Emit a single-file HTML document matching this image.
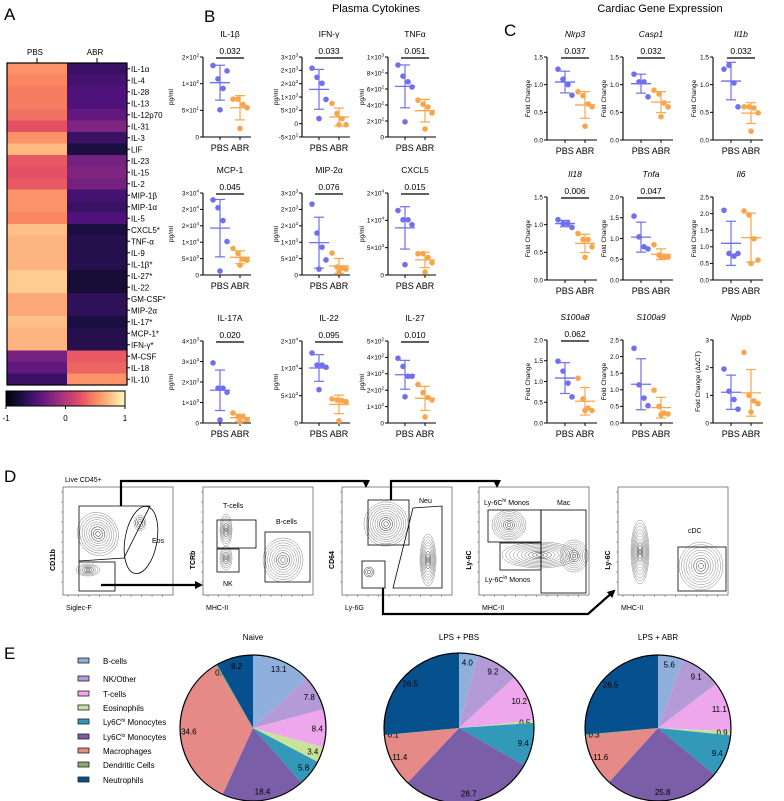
<!DOCTYPE html>
<html><head><meta charset="utf-8"><style>
html,body{margin:0;padding:0;background:#fff;}
svg{display:block;font-family:"Liberation Sans",Arial,sans-serif;}
</style></head><body>
<svg id="fig" width="784" height="801" viewBox="0 0 784 801" xmlns="http://www.w3.org/2000/svg">
<text x="4" y="20" font-size="17">A</text>
<text x="204" y="22" font-size="17">B</text>
<text x="504" y="36" font-size="17">C</text>
<text x="4" y="482" font-size="17">D</text>
<text x="4" y="659" font-size="17">E</text>
<text x="376" y="12" font-size="11" text-anchor="middle">Plasma Cytokines</text>
<text x="660" y="12" font-size="11" text-anchor="middle">Cardiac Gene Expression</text>
<g id="gA"></g>
<g id="gB"></g>
<g id="gC"></g>
<g id="gD"></g>
<g id="gE"></g>
</svg>
<script>
const NS="http://www.w3.org/2000/svg";
// ---------- Heatmap data ----------
const hmRows=["IL-1α","IL-4","IL-28","IL-13","IL-12p70","IL-31","IL-3","LIF","IL-23","IL-15","IL-2","MIP-1β","MIP-1α","IL-5","CXCL5*","TNF-α","IL-9","IL-1β*","IL-27*","IL-22","GM-CSF*","MIP-2α","IL-17*","MCP-1*","IFN-γ*","M-CSF","IL-18","IL-10"];
const hmPBS=[0.55,0.5,0.45,0.45,0.4,0.25,0.55,0.72,0.3,0.25,0.3,0.55,0.55,0.5,0.75,0.7,0.7,0.7,0.8,0.8,0.65,0.65,0.75,0.7,0.7,-0.3,-0.4,-0.6];
const hmABR=[-0.6,-0.55,-0.5,-0.5,-0.4,-0.25,-0.6,-0.75,-0.3,-0.25,-0.3,-0.55,-0.6,-0.5,-0.75,-0.7,-0.7,-0.7,-0.8,-0.8,-0.65,-0.65,-0.75,-0.7,-0.7,0.3,0.35,0.55];
const hmCols=["PBS","ABR"];
const cbTicks=[-1,0,1];
// ---------- Plasma cytokine data ----------
const bTitles=["IL-1β","IFN-γ","TNFα","MCP-1","MIP-2α","CXCL5","IL-17A","IL-22","IL-27"];
const bP=["0.032","0.033","0.051","0.045","0.076","0.015","0.020","0.095","0.010"];
const bPBS=[[134,109,91,124,51],[2080,1740,1515,910,190],[900,760,690,625,190],[22900,20500,16600,10200,1200],[2160,1280,850,460,180],[11800,10100,10100,9200,1900],[2930,1700,1700,1500,150],[12800,10600,10600,10200,6100],[395,345,285,285,160]];
const bABR=[[71,71,61,55,16],[760,380,190,-40,-40],[460,410,375,300,100],[8100,6600,4800,4500,3000],[670,240,210,180,90],[3900,3900,3200,2250,560],[490,300,300,150,50],[4400,4200,4100,3900,400],[235,185,155,140,37]];
const bTicks=[[0,50,100,150],[-500,0,500,1000,1500,2000,2500],[0,200,400,600,800,1000],[0,5000,10000,15000,20000,25000],[0,500,1000,1500,2000,2500],[0,5000,10000,15000],[0,1000,2000,3000,4000],[0,5000,10000,15000],[0,100,200,300,400,500]];
const bTickLabels=[["0","5×10^1","1×10^2","2×10^2"],["-5×10^2","0","5×10^2","1×10^3","2×10^3","2×10^3","3×10^3"],["0","2×10^2","4×10^2","6×10^2","8×10^2","1×10^3"],["0","5×10^3","1×10^4","2×10^4","2×10^4","3×10^4"],["0","5×10^2","1×10^3","2×10^3","2×10^3","3×10^3"],["0","5×10^3","1×10^4","2×10^4"],["0","1×10^3","2×10^3","3×10^3","4×10^3"],["0","5×10^3","1×10^4","2×10^4"],["0","1×10^2","2×10^2","3×10^2","4×10^2","5×10^2"]];
// ---------- Cardiac gene data ----------
const cTitles=["Nlrp3","Casp1","Il1b","Il18","Tnfa","Il6","S100a8","S100a9","Nppb"];
const cP=["0.037","0.032","0.032","0.006","0.047","","0.062","",""];
const cPBS=[[1.28,1.10,1.00,0.81],[1.19,1.05,1.05,0.78],[1.28,1.35,1.03,0.6],[1.09,1.02,1.02,0.95],[1.54,1.04,0.8,0.75],[2.1,0.8,0.72,0.8],[1.49,1.25,0.96,0.63],[2.25,1.15,0.75,0.52],[1.95,1.15,0.85,0.5]];
const cABR=[[0.87,0.8,0.65,0.6,0.25],[0.9,0.83,0.67,0.6,0.42],[0.6,0.6,0.58,0.49,0.16],[0.84,0.73,0.73,0.6,0.41],[0.85,0.6,0.55,0.55,0.55],[2.08,1.96,1.24,0.6,0.5],[1.08,0.58,0.36,0.3,0.3],[0.99,0.5,0.3,0.27,0.25],[2.55,1.0,0.8,0.7,0.4]];
const cTicks=[[0,0.5,1,1.5],[0,0.5,1,1.5],[0,0.5,1,1.5],[0,0.5,1,1.5],[0,0.5,1,1.5,2],[0,0.5,1,1.5,2,2.5],[0,0.5,1,1.5,2],[0,0.5,1,1.5,2,2.5],[0,1,2,3]];
const cTickLabels=[["0.0","0.5","1.0","1.5"],["0.0","0.5","1.0","1.5"],["0.0","0.5","1.0","1.5"],["0.0","0.5","1.0","1.5"],["0.0","0.5","1.0","1.5","2.0"],["0.0","0.5","1.0","1.5","2.0","2.5"],["0.0","0.5","1.0","1.5","2.0"],["0.0","0.5","1.0","1.5","2.0","2.5"],["0","1","2","3"]];
// ---------- Pie data ----------
const pieCats=["B-cells","NK/Other","T-cells","Eosinophils","Ly6Chi Monocytes","Ly6Clo Monocytes","Macrophages","Dendritic Cells","Neutrophils"];
const pieNaive=[13.1,7.8,8.4,3.4,5.8,18.4,34.6,0.4,8.2];
const piePBS=[4.0,9.2,10.2,0.5,9.4,28.7,11.4,0.1,26.5];
const pieABR=[5.6,9.1,11.1,0.9,9.4,25.8,11.6,0.3,26.5];
const pieTitles=["Naive","LPS + PBS","LPS + ABR"];

function mk(tag,attrs,parent,txt){const e=document.createElementNS(NS,tag);for(const k in attrs)e.setAttribute(k,attrs[k]);if(txt!==undefined)e.textContent=txt;parent.appendChild(e);return e;}
const magma=[[0,[0,0,4]],[0.13,[28,16,68]],[0.25,[79,18,123]],[0.38,[129,37,129]],[0.5,[181,54,122]],[0.63,[229,80,100]],[0.75,[251,135,97]],[0.88,[254,194,135]],[1,[252,253,191]]];
function cmap(t){t=Math.max(0,Math.min(1,t));for(let i=1;i<magma.length;i++){if(t<=magma[i][0]){const a=magma[i-1],b=magma[i];const f=(t-a[0])/(b[0]-a[0]);const c=a[1].map((v,j)=>Math.round(v+(b[1][j]-v)*f));return `rgb(${c})`;}}return "rgb(252,253,191)";}

// ---------- Panel A ----------
(function(){
 const g=document.getElementById('gA');
 const x0=7,y0=63,cw=60,rh=(385-63)/hmRows.length;
 hmCols.forEach((c,i)=>{
  const t=mk('text',{x:x0+cw*i+cw/2-2,y:55,'font-size':8,'text-anchor':'middle'},g,c);
  
  mk('line',{x1:x0+cw*i+cw/2,x2:x0+cw*i+cw/2,y1:58,y2:63,stroke:'#000'},g);
 });
 hmRows.forEach((r,i)=>{
  [hmPBS[i],hmABR[i]].forEach((v,j)=>{
   const rc=mk('rect',{x:x0+cw*j,y:y0+rh*i,width:cw+0.5,height:rh+0.5,fill:cmap((v+1)/2)},g);
   
  });
  const yy=y0+rh*(i+0.5);
  mk('line',{x1:127,x2:130,y1:yy,y2:yy,stroke:'#000'},g);
  const t=mk('text',{x:131,y:yy+3,'font-size':8},g,r);
  
 });
 mk('rect',{x:x0,y:y0,width:cw*2,height:385-63,fill:'none',stroke:'#000','stroke-width':1.2},g);
 const defs=mk('defs',{},g);const lg=mk('linearGradient',{id:'mg',x1:0,x2:1,y1:0,y2:0},defs);
 for(let i=0;i<=20;i++)mk('stop',{offset:i/20,'stop-color':cmap(i/20)},lg);
 const cb=mk('rect',{x:6,y:391,width:119,height:15,fill:'url(#mg)',stroke:'#000'},g);
 
 cbTicks.forEach(v=>{const x=6+(v+1)/2*119;mk('line',{x1:x,x2:x,y1:406,y2:409,stroke:'#000'},g);
  const t=mk('text',{x:x,y:421,'font-size':8,'text-anchor':'middle'},g,String(v));});
})();

function tickText(parent,x,y,lab){
 const t=mk('text',{x:x,y:y,'font-size':6.5,'text-anchor':'end'},parent);
 const m=lab.split('^');
 mk('tspan',{},t,m[0]);
 if(m[1]!==undefined)mk('tspan',{'font-size':4.5,dy:-3},t,m[1]);
 
}
function meanSD(a){const m=a.reduce((s,v)=>s+v,0)/a.length;const sd=Math.sqrt(a.reduce((s,v)=>s+(v-m)*(v-m),0)/(a.length-1));return [m,sd];}

function chart(parent,cfg){
 const g=mk('g',{},parent);
 
 const lo=cfg.ticks[0],hi=cfg.ticks[cfg.ticks.length-1];
 const Y=v=>cfg.yBot-(v-lo)/(hi-lo)*(cfg.yBot-cfg.yTop);
 const xP=cfg.x0+cfg.dp,xA=cfg.x0+cfg.da;
 mk('line',{x1:cfg.x0,x2:cfg.x0,y1:cfg.yTop,y2:cfg.yBot,stroke:'#000','stroke-width':1.1},g);
 mk('line',{x1:cfg.x0,x2:cfg.x0+cfg.w,y1:cfg.yBot,y2:cfg.yBot,stroke:'#000','stroke-width':1.1},g);
 cfg.ticks.forEach((v,i)=>{const y=Y(v);mk('line',{x1:cfg.x0-3,x2:cfg.x0,y1:y,y2:y,stroke:'#000'},g);tickText(g,cfg.x0-4,y+2.3,cfg.labels[i]);});
 [xP,xA].forEach(x=>mk('line',{x1:x,x2:x,y1:cfg.yBot,y2:cfg.yBot+3,stroke:'#000'},g));
 const xl=mk('text',{x:(xP+xA)/2,y:cfg.yBot+14,'font-size':9,'text-anchor':'middle'},g,'PBS ABR');
 const tt=mk('text',{x:(xP+xA)/2,y:cfg.yTop-20,'font-size':8.5,'text-anchor':'middle','font-style':cfg.italic?'italic':'normal'},g,cfg.title);
 if(cfg.p){const pt=mk('text',{x:(xP+xA)/2,y:cfg.yTop-3,'font-size':8.5,'text-anchor':'middle'},g,cfg.p);
  mk('line',{x1:xP-4,x2:xA+4,y1:cfg.yTop+1,y2:cfg.yTop+1,stroke:'#000','stroke-width':1.2},g);}
 const yl=mk('text',{transform:`translate(${cfg.x0-cfg.ylOff},${(cfg.yTop+cfg.yBot)/2}) rotate(-90)`,'font-size':6.5,'text-anchor':'middle'},g,cfg.ylab);
 [[cfg.pbs,xP,'#6f6ff0'],[cfg.abr,xA,'#f8a54c']].forEach(([arr,x,col],gi)=>{
  const [m,sd]=meanSD(arr);
  mk('line',{x1:x,x2:x,y1:Y(m+sd),y2:Y(m-sd),stroke:col,'stroke-width':1.2},g);
  mk('line',{x1:x-5,x2:x+5,y1:Y(m+sd),y2:Y(m+sd),stroke:col,'stroke-width':1.2},g);
  mk('line',{x1:x-5,x2:x+5,y1:Y(m-sd),y2:Y(m-sd),stroke:col,'stroke-width':1.2},g);
  mk('line',{x1:x-10,x2:x+10,y1:Y(m),y2:Y(m),stroke:col,'stroke-width':1.3},g);
  const offs=[-7,-2,3,7,0];
  arr.forEach((v,i)=>{const c=mk('circle',{cx:x+offs[i%5],cy:Y(v),r:2.8,fill:col},g);
   });
 });
}
(function(){const g=document.getElementById('gB');
 const xs=[203,302,388],rows=[[57,137],[193,275],[341,423]];
 for(let i=0;i<9;i++){const c=i%3,r=Math.floor(i/3);
  chart(g,{x0:xs[c],w:48,dp:17,da:37,yTop:rows[r][0],yBot:rows[r][1],ticks:bTicks[i],labels:bTickLabels[i],pbs:bPBS[i],abr:bABR[i],title:bTitles[i],p:bP[i],italic:false,ylab:'pg/ml',ylOff:c==0?30:24});}
})();
(function(){const g=document.getElementById('gC');
 const xs=[547,623,713],rows=[[57,140],[197,280],[340,423]];
 for(let i=0;i<9;i++){const c=i%3,r=Math.floor(i/3);
  chart(g,{x0:xs[c],w:50,dp:18,da:38,yTop:rows[r][0],yBot:rows[r][1],ticks:cTicks[i],labels:cTickLabels[i],pbs:cPBS[i],abr:cABR[i],title:cTitles[i],p:cP[i],italic:true,ylab:i==8?'Fold Change (ΔΔCT)':'Fold Change',ylOff:i==8?13:17});}
})();
(function(){const g=document.getElementById('gD');
 const boxes=[63,203,342,479,618];const yT=487,yB=595,W=110;
 const xlab=["Siglec-F","MHC-II","Ly-6G","MHC-II","MHC-II"],ylab=["CD11b","TCRb","CD64","Ly-6C","Ly-6C"];
 boxes.forEach((x,i)=>{
  const r=mk('rect',{x:x,y:yT,width:W,height:yB-yT,fill:'none',stroke:'#555','stroke-width':0.7},g);
  for(let k=0;k<10;k++){mk('line',{x1:x+5+k*10.5,x2:x+5+k*10.5,y1:yB,y2:yB+2,stroke:'#555','stroke-width':0.5},g);mk('line',{x1:x-2,x2:x,y1:yT+5+k*10,y2:yT+5+k*10,stroke:'#555','stroke-width':0.5},g);}
  const t=mk('text',{x:x+3,y:610,'font-size':7},g,xlab[i]);
  const t2=mk('text',{transform:`translate(${x-8},${560}) rotate(-90)`,'font-size':7,'font-weight':'bold','text-anchor':'middle'},g,ylab[i]);
 });
 function contour(cx,cy,rx,ry,n,rot){for(let k=0;k<n;k++){const f=1-k/n;mk('ellipse',{cx:cx,cy:cy,rx:rx*f,ry:ry*f,fill:'none',stroke:k>n-4?'#333':'#888','stroke-width':0.5,transform:`rotate(${rot||0} ${cx} ${cy})`},g);}}
 const L=(txt,x,y,name)=>{const t=mk('text',{x:x,y:y,'font-size':7},g,txt);return t;};
 L("Live CD45+",65,482,'live-cd45-label');
 contour(98,534,20,22,9,-30);contour(88,570,12,6,6,0);contour(140,523,6,8,4,0);
 mk('polygon',{points:'79,506 150,506 124,558 79,561',fill:'none',stroke:'#000','stroke-width':0.8},g);
 mk('ellipse',{cx:141,cy:540,rx:16,ry:34,fill:'none',stroke:'#000','stroke-width':0.8,transform:'rotate(10 141 540)'},g);
 mk('rect',{x:79,y:562,width:36,height:29,fill:'none',stroke:'#000','stroke-width':0.8},g);
 L("Eos",152,543,'eos-gate-label');
 contour(226,530,6,16,7,0);contour(226,558,6,12,6,0);contour(283,560,20,22,9,0);
 mk('rect',{x:217,y:520,width:39,height:28,fill:'none',stroke:'#000','stroke-width':0.8},g);
 mk('rect',{x:217,y:549,width:22,height:23,fill:'none',stroke:'#000','stroke-width':0.8},g);
 mk('rect',{x:265,y:532,width:45,height:50,fill:'none',stroke:'#000','stroke-width':0.8},g);
 L("T-cells",223,508,'tcell-gate-label');L("B-cells",276,524,'bcell-gate-label');L("NK",223,586,'nk-gate-label');
 contour(386,524,22,22,10,-20);contour(428,560,8,26,9,0);contour(369,572,5,5,3,0);
 mk('rect',{x:368,y:500,width:41,height:45,fill:'none',stroke:'#000','stroke-width':0.8},g);
 mk('polygon',{points:'413,508 442,506 442,588 393,588',fill:'none',stroke:'#000','stroke-width':0.8},g);
 mk('rect',{x:362,y:561,width:23,height:27,fill:'none',stroke:'#000','stroke-width':0.8},g);
 L("Neu",419,503,'neu-gate-label');
 contour(509,525,17,15,9,0);contour(540,555,38,13,10,0);contour(574,556,14,16,8,0);
 mk('rect',{x:488,y:510,width:53,height:32,fill:'none',stroke:'#000','stroke-width':0.8},g);
 mk('rect',{x:541,y:510,width:45,height:83,fill:'none',stroke:'#000','stroke-width':0.8},g);
 mk('rect',{x:500,y:543,width:41,height:27,fill:'none',stroke:'#000','stroke-width':0.8},g);
 const a=L("Ly-6C",484,505,'ly6chi-gate-label');mk('tspan',{'font-size':5,dy:-3},a,'hi');mk('tspan',{dy:3},a,' Monos');
 L("Mac",557,505,'mac-gate-label');
 const b=L("Ly-6C",485,582,'ly6clo-gate-label');mk('tspan',{'font-size':5,dy:-3},b,'lo');mk('tspan',{dy:3},b,' Monos');
 contour(640,552,9,32,10,0);contour(701,566,22,24,9,0);
 mk('rect',{x:678,y:547,width:48,height:44,fill:'none',stroke:'#000','stroke-width':0.8},g);
 L("cDC",688,533,'cdc-gate-label');
 mk('defs',{},g).innerHTML='<marker id="ah" markerUnits="userSpaceOnUse" markerWidth="8" markerHeight="8" refX="6" refY="4" orient="auto"><path d="M0,0 L8,4 L0,8 z" fill="#000"/></marker>';
 const arrows=['M121,506 L121,481 L366,481 L366,486','M391,500 L391,481 L497,481 L497,486','M101,585 L201,585','M383,588 L383,614 L588,614 L614,591'];
 arrows.forEach(d=>{const p=mk('path',{d:d,fill:'none',stroke:'#000','stroke-width':2.2,'marker-end':'url(#ah)'},g);});
})();
(function(){const g=document.getElementById('gE');
 const cols=["#8fb0dc","#b59ad8","#eea7ec","#c8e29a","#3399bb","#7b5ea8","#e58a87","#8aaa70","#07508e"];
 const legY=[661,679,694,708,722,737,751,765,780];
 pieCats.forEach((c,i)=>{
  const r=mk('rect',{x:78,y:legY[i]-3,width:11,height:5,fill:cols[i],stroke:'#222','stroke-width':0.8},g);
  const t=mk('text',{x:103,y:legY[i]+3,'font-size':8},g);
  if(c.startsWith('Ly6C')){mk('tspan',{},t,'Ly6C');mk('tspan',{'font-size':5,dy:-3},t,c.slice(4,c.indexOf(' ')));mk('tspan',{dy:3},t,' Monocytes');}else t.textContent=c;
 });
 const data=[pieNaive,piePBS,pieABR],cx=[253,459,658],R=[73,75,73],cy=728;
 data.forEach((d,pi)=>{
  const tt=mk('text',{x:cx[pi],y:640,'font-size':8,'text-anchor':'middle'},g,pieTitles[pi]);
  const tot=d.reduce((s,v)=>s+v,0);let a=0;const r=R[pi];
  d.forEach((v,i)=>{const a0=a/tot*2*Math.PI,a1=(a+v)/tot*2*Math.PI;a+=v;
   const P=t=>[cx[pi]+r*Math.sin(t),cy-r*Math.cos(t)];const p0=P(a0),p1=P(a1);
   const s=mk('path',{d:`M${cx[pi]},${cy} L${p0} A${r},${r} 0 ${a1-a0>Math.PI?1:0} 1 ${p1} Z`,fill:cols[i],stroke:'none'},g);
   
   const am=(a0+a1)/2,lr=r*0.88;const lx=cx[pi]+lr*Math.sin(am),ly=cy-lr*Math.cos(am);
   const t=mk('text',{x:lx,y:ly+3,'font-size':8,'text-anchor':'middle'},g,v.toFixed(1));
  });
  mk('circle',{cx:cx[pi],cy:cy,r:r,fill:'none',stroke:'#000','stroke-width':1.2},g);
 });
})();
</script>
</body></html>
